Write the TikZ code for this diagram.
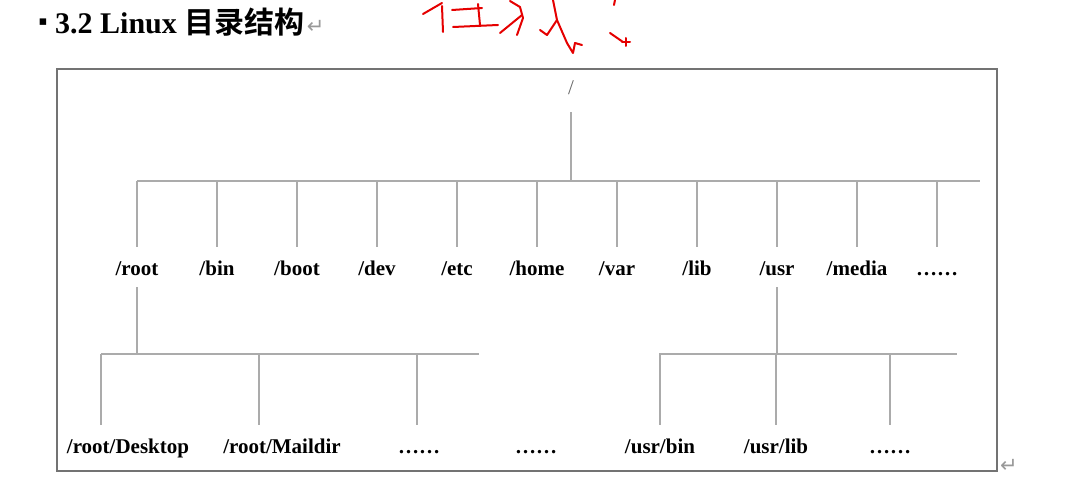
\documentclass[tikz,border=0pt]{standalone}
\usepackage{fontspec}
\setmainfont{Liberation Serif}
\newfontfamily\cjk{Noto Sans CJK SC}[BoldFont={Noto Sans CJK SC Bold}]
\newfontfamily\sym{DejaVu Sans}
\usetikzlibrary{positioning}

\begin{document}
\begin{tikzpicture}[x=1pt,y=-1pt,node distance=80pt,
  dir/.style={font=\fontsize{21}{21}\selectfont\bfseries,inner xsep=0pt,inner ysep=12pt,text height=16pt,text depth=0pt},
  link/.style={draw=black!33,line width=1.4pt},
  frame/.style={draw=black!55,line width=1.4pt},
  para/.style={font=\sym\fontsize{21}{21}\selectfont,text=black!40,inner sep=0pt},
  ink/.style={draw=red!90!black,line width=2pt,line cap=round,line join=round}]
  \useasboundingbox (0,0) rectangle (1074,484);

  % title line
  \node[font=\sym\fontsize{13}{13}\selectfont,inner sep=0pt] (bullet) at (43,22) {▪};
  \node[font=\fontsize{30}{30}\selectfont\bfseries,inner sep=0pt,anchor=base west] (title) at (55,34) {3.2 Linux {\cjk 目录结构}};
  \node[para,anchor=base west] (ret1) at ([xshift=2pt]title.base east) {↵};

  % handwriting
  \draw[ink] (423,14) -- (442,3);
  \draw[ink] (442,6) -- (443,32);
  \draw[ink] (452,10) -- (482,8);
  \draw[ink] (478,4) -- (480,25);
  \draw[ink] (453,27) -- (498,25);
  \draw[ink] (510,1) -- (520,7) -- (523,18) -- (517,35);
  \draw[ink] (500,33) -- (522,15);
  \draw[ink] (553,0) -- (557,20) -- (567,43) -- (573,53) -- (575,43) -- (582,45);
  \draw[ink] (540,30) -- (547,35) -- (557,20);
  \draw[ink] (610,33) -- (623,42);
  \draw[ink] (622,42) -- (630,42);
  \draw[ink] (626,38) -- (626,46);
  \draw[ink] (615,0) -- (614,5);

  \draw[frame] (57,69) rectangle (997,471);
  \node[para,anchor=base west] (ret2) at (1000,472) {↵};

  % first level
  \node[dir,font=\fontsize{21}{21}\selectfont,text=black!60,inner ysep=17pt,anchor=base] (top) at (571,95) {/};
  \node[dir,anchor=base] (root) at (137,275) {/root};
  \node[dir] (bin) [right of=root] {/bin};
  \node[dir] (boot) [right of=bin] {/boot};
  \node[dir] (dev) [right of=boot] {/dev};
  \node[dir] (etc) [right of=dev] {/etc};
  \node[dir] (home) [right of=etc] {/home};
  \node[dir] (var) [right of=home] {/var};
  \node[dir] (lib) [right of=var] {/lib};
  \node[dir] (usr) [right of=lib] {/usr};
  \node[dir] (media) [right of=usr] {/media};
  \node[dir] (more) [right of=media] {……};

  \coordinate (busL) at (137,181);
  \coordinate (busR) at (980,181);
  \draw[link] (busL) -- (busR);
  \draw[link] (top.south) -- (top.south |- busL);
  \foreach \n in {root,bin,boot,dev,etc,home,var,lib,usr,media,more}
    \draw[link] (\n.north) -- (\n.north |- busL);

  % second level
  \node[dir,anchor=base] (desk) at (128,453) {/root/Desktop};
  \node[dir,anchor=base] (mail) at (282,453) {/root/Maildir};
  \node[dir,anchor=base] (rdots) at (419,453) {……};
  \node[dir,anchor=base] (mdots) at (536,453) {……};
  \node[dir,anchor=base] (ubin) at (660,453) {/usr/bin};
  \node[dir,anchor=base] (ulib) at (776,453) {/usr/lib};
  \node[dir,anchor=base] (udots) at (890,453) {……};

  \coordinate (rj1) at (101,354);
  \coordinate (rj2) at (259,354);
  \coordinate (rj3) at (417,354);
  \coordinate (rbusR) at (479,354);
  \draw[link] (root.south) -- (root.south |- rj1);
  \draw[link] (rj1) -- (rbusR);
  \draw[link] (rj1) -- (rj1 |- desk.north);
  \draw[link] (rj2) -- (rj2 |- mail.north);
  \draw[link] (rj3) -- (rj3 |- rdots.north);

  \coordinate (ubusL) at (659,354);
  \coordinate (ubusR) at (957,354);
  \draw[link] (usr.south) -- (usr.south |- ubusL);
  \draw[link] (ubusL) -- (ubusR);
  \foreach \n in {ubin,ulib,udots}
    \draw[link] (\n.north) -- (\n.north |- ubusL);
\end{tikzpicture}
\end{document}
